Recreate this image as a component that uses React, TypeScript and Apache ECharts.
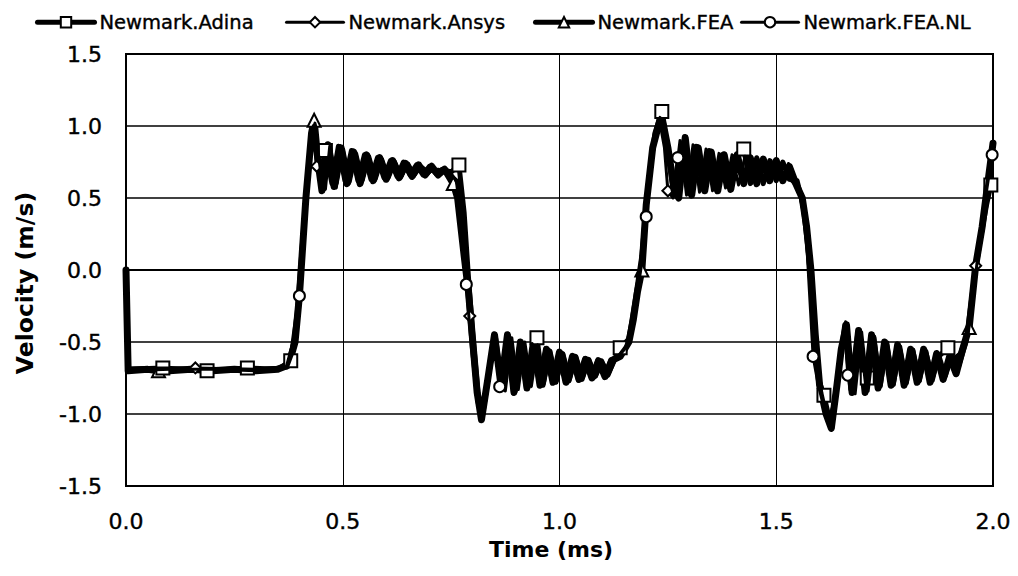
import React, { useEffect, useRef } from "react";
import * as echarts from "echarts";

// Velocity histories [time (ms), velocity (m/s)] for each solver
const adinaData: [number, number][] = [
  [0, 0], [0.005, -0.69], [0.085, -0.68], [0.187, -0.7], [0.28, -0.68], [0.35, -0.69], [0.38, -0.63],
  [0.395, -0.3], [0.41, 0.3], [0.425, 0.85], [0.435, 1.0], [0.447, 0.65], [0.46, 0.83], [0.475, 0.6],
  [0.49, 0.86], [0.505, 0.62], [0.52, 0.83], [0.535, 0.62], [0.55, 0.8], [0.565, 0.63], [0.58, 0.78],
  [0.595, 0.64], [0.61, 0.76], [0.625, 0.65], [0.64, 0.75], [0.655, 0.66], [0.67, 0.73], [0.685, 0.66],
  [0.7, 0.72], [0.715, 0.67], [0.73, 0.7], [0.75, 0.68], [0.768, 0.73], [0.78, 0.4], [0.79, -0.05],
  [0.8, -0.45], [0.812, -0.85], [0.822, -1.02], [0.838, -0.7], [0.852, -0.46], [0.868, -0.82],
  [0.883, -0.48], [0.898, -0.84], [0.913, -0.52], [0.928, -0.8], [0.948, -0.47], [0.962, -0.8],
  [0.977, -0.56], [0.992, -0.78], [1.007, -0.58], [1.022, -0.77], [1.037, -0.6], [1.052, -0.76],
  [1.067, -0.62], [1.082, -0.74], [1.097, -0.63], [1.112, -0.73], [1.127, -0.62], [1.14, -0.54],
  [1.16, -0.48], [1.175, -0.2], [1.19, 0.1], [1.205, 0.6], [1.22, 0.95], [1.236, 1.1], [1.252, 0.8],
  [1.268, 0.52], [1.285, 0.88], [1.3, 0.53], [1.315, 0.86], [1.33, 0.56], [1.345, 0.83], [1.36, 0.56],
  [1.375, 0.8], [1.39, 0.58], [1.405, 0.79], [1.425, 0.84], [1.44, 0.6], [1.455, 0.78], [1.47, 0.6],
  [1.485, 0.76], [1.5, 0.62], [1.515, 0.75], [1.53, 0.63], [1.548, 0.62], [1.562, 0.45], [1.575, 0.1],
  [1.588, -0.45], [1.6, -0.78], [1.61, -0.87], [1.626, -1.08], [1.642, -0.75], [1.658, -0.38],
  [1.672, -0.83], [1.688, -0.44], [1.71, -0.75], [1.725, -0.47], [1.74, -0.8], [1.755, -0.52],
  [1.77, -0.79], [1.785, -0.55], [1.8, -0.78], [1.815, -0.56], [1.83, -0.77], [1.845, -0.57],
  [1.86, -0.75], [1.875, -0.6], [1.896, -0.54], [1.91, -0.62], [1.925, -0.58], [1.94, -0.45],
  [1.955, -0.1], [1.97, 0.2], [1.985, 0.45], [1.995, 0.59],
];
const adinaMarks = [0.085, 0.187, 0.28, 0.38, 0.46, 0.768, 0.948, 1.14, 1.236, 1.425, 1.61, 1.71, 1.896, 1.995];

const ansysData: [number, number][] = [
  [0, 0], [0.005, -0.68], [0.16, -0.68], [0.3, -0.69], [0.37, -0.67], [0.39, -0.45], [0.405, 0.0],
  [0.42, 0.7], [0.432, 1.0], [0.44, 0.72], [0.458, 0.58], [0.472, 0.85], [0.487, 0.6], [0.502, 0.84],
  [0.517, 0.61], [0.532, 0.81], [0.547, 0.62], [0.562, 0.79], [0.577, 0.63], [0.592, 0.77],
  [0.607, 0.64], [0.622, 0.75], [0.637, 0.65], [0.652, 0.74], [0.667, 0.66], [0.682, 0.72],
  [0.7, 0.68], [0.72, 0.7], [0.745, 0.67], [0.765, 0.62], [0.78, 0.15], [0.793, -0.32], [0.805, -0.7],
  [0.818, -1.0], [0.83, -0.85], [0.845, -0.5], [0.86, -0.6], [0.875, -0.84], [0.89, -0.47],
  [0.905, -0.83], [0.92, -0.5], [0.935, -0.81], [0.95, -0.52], [0.965, -0.79], [0.98, -0.56],
  [0.995, -0.77], [1.01, -0.58], [1.025, -0.76], [1.04, -0.6], [1.055, -0.75], [1.07, -0.62],
  [1.085, -0.74], [1.1, -0.64], [1.115, -0.72], [1.13, -0.62], [1.15, -0.55], [1.168, -0.4],
  [1.18, -0.15], [1.195, 0.25], [1.21, 0.75], [1.23, 1.05], [1.242, 0.85], [1.25, 0.55], [1.262, 0.5],
  [1.278, 0.9], [1.293, 0.52], [1.308, 0.87], [1.323, 0.54], [1.338, 0.84], [1.353, 0.55],
  [1.368, 0.81], [1.383, 0.57], [1.398, 0.8], [1.413, 0.59], [1.428, 0.79], [1.443, 0.6],
  [1.458, 0.77], [1.473, 0.61], [1.488, 0.76], [1.503, 0.63], [1.518, 0.74], [1.535, 0.62],
  [1.552, 0.56], [1.565, 0.35], [1.578, 0.0], [1.59, -0.5], [1.605, -0.85], [1.62, -1.05],
  [1.635, -0.9], [1.648, -0.6], [1.66, -0.36], [1.67, -0.6], [1.682, -0.86], [1.697, -0.43],
  [1.712, -0.84], [1.727, -0.46], [1.742, -0.81], [1.757, -0.5], [1.772, -0.8], [1.787, -0.53],
  [1.802, -0.79], [1.817, -0.55], [1.832, -0.77], [1.847, -0.56], [1.862, -0.77], [1.877, -0.59],
  [1.892, -0.74], [1.907, -0.6], [1.922, -0.68], [1.94, -0.5], [1.96, 0.03], [1.975, 0.35],
  [1.99, 0.7], [2.0, 0.85],
];
const ansysMarks = [0.16, 0.44, 0.793, 1.25, 1.96];

const feaData: [number, number][] = [
  [0, 0], [0.005, -0.7], [0.05, -0.69], [0.075, -0.7], [0.1, -0.7], [0.15, -0.69], [0.2, -0.7],
  [0.25, -0.69], [0.3, -0.7], [0.35, -0.69], [0.375, -0.66], [0.39, -0.5], [0.4, -0.18],
  [0.415, 0.5], [0.428, 0.95], [0.434, 1.04], [0.443, 0.75], [0.452, 0.55], [0.466, 0.87],
  [0.48, 0.58], [0.495, 0.85], [0.51, 0.6], [0.525, 0.82], [0.54, 0.6], [0.555, 0.8], [0.57, 0.62],
  [0.585, 0.78], [0.6, 0.63], [0.615, 0.76], [0.63, 0.64], [0.645, 0.74], [0.66, 0.65],
  [0.675, 0.73], [0.69, 0.66], [0.705, 0.72], [0.72, 0.66], [0.735, 0.7], [0.755, 0.6],
  [0.765, 0.5], [0.78, 0.1], [0.79, -0.15], [0.8, -0.5], [0.81, -0.85], [0.82, -1.04],
  [0.835, -0.75], [0.85, -0.45], [0.865, -0.8], [0.88, -0.45], [0.895, -0.85], [0.91, -0.5],
  [0.925, -0.82], [0.94, -0.5], [0.955, -0.8], [0.97, -0.55], [0.985, -0.78], [1.0, -0.57],
  [1.015, -0.78], [1.03, -0.6], [1.045, -0.76], [1.06, -0.62], [1.075, -0.75], [1.09, -0.63],
  [1.105, -0.74], [1.12, -0.63], [1.14, -0.6], [1.16, -0.5], [1.17, -0.35], [1.18, -0.15],
  [1.19, 0.0], [1.2, 0.45], [1.215, 0.85], [1.235, 1.08], [1.25, 0.85], [1.265, 0.55],
  [1.275, 0.5], [1.29, 0.92], [1.305, 0.52], [1.32, 0.85], [1.335, 0.55], [1.35, 0.82],
  [1.365, 0.55], [1.38, 0.8], [1.395, 0.56], [1.41, 0.8], [1.425, 0.6], [1.44, 0.78], [1.455, 0.6],
  [1.47, 0.77], [1.485, 0.62], [1.5, 0.76], [1.515, 0.62], [1.53, 0.72], [1.545, 0.6], [1.56, 0.5],
  [1.57, 0.3], [1.58, 0.0], [1.59, -0.45], [1.6, -0.8], [1.615, -1.0], [1.627, -1.1], [1.64, -0.8],
  [1.65, -0.55], [1.662, -0.38], [1.675, -0.85], [1.69, -0.42], [1.705, -0.85], [1.72, -0.45],
  [1.735, -0.82], [1.75, -0.5], [1.765, -0.8], [1.78, -0.52], [1.795, -0.8], [1.81, -0.55],
  [1.825, -0.78], [1.84, -0.55], [1.855, -0.78], [1.87, -0.58], [1.885, -0.76], [1.9, -0.6],
  [1.915, -0.72], [1.93, -0.55], [1.945, -0.4], [1.96, 0.03], [1.975, 0.3], [1.99, 0.65], [2.0, 0.88],
];
const feaMarks = [0.075, 0.434, 0.755, 1.19, 1.945];

const feaNlData: [number, number][] = [
  [0, 0], [0.005, -0.7], [0.1, -0.69], [0.2, -0.69], [0.3, -0.7], [0.372, -0.68], [0.388, -0.55],
  [0.4, -0.18], [0.413, 0.45], [0.427, 0.92], [0.436, 1.02], [0.448, 0.7], [0.46, 0.56], [0.47, 0.86],
  [0.485, 0.57], [0.5, 0.86], [0.515, 0.6], [0.53, 0.82], [0.545, 0.61], [0.56, 0.8], [0.575, 0.62],
  [0.59, 0.78], [0.605, 0.63], [0.62, 0.76], [0.635, 0.64], [0.65, 0.74], [0.665, 0.65],
  [0.68, 0.72], [0.695, 0.66], [0.71, 0.71], [0.725, 0.67], [0.745, 0.69], [0.762, 0.62],
  [0.775, 0.3], [0.785, -0.1], [0.797, -0.55], [0.81, -0.92], [0.82, -1.03], [0.833, -0.8],
  [0.848, -0.44], [0.862, -0.81], [0.877, -0.46], [0.892, -0.86], [0.907, -0.49], [0.922, -0.83],
  [0.937, -0.51], [0.952, -0.8], [0.967, -0.54], [0.982, -0.78], [0.997, -0.57], [1.012, -0.78],
  [1.027, -0.6], [1.042, -0.77], [1.057, -0.61], [1.072, -0.75], [1.087, -0.62], [1.102, -0.74],
  [1.117, -0.62], [1.135, -0.6], [1.155, -0.52], [1.17, -0.3], [1.185, 0.0], [1.2, 0.37],
  [1.215, 0.8], [1.232, 1.06], [1.247, 0.85], [1.26, 0.55], [1.273, 0.78], [1.288, 0.93],
  [1.302, 0.52], [1.318, 0.86], [1.332, 0.55], [1.348, 0.83], [1.362, 0.56], [1.378, 0.81],
  [1.392, 0.57], [1.408, 0.8], [1.422, 0.59], [1.438, 0.78], [1.452, 0.6], [1.468, 0.77],
  [1.482, 0.61], [1.498, 0.76], [1.512, 0.62], [1.528, 0.74], [1.542, 0.62], [1.558, 0.52],
  [1.57, 0.2], [1.585, -0.6], [1.597, -0.8], [1.612, -0.98], [1.63, -1.1], [1.645, -0.7],
  [1.658, -0.4], [1.665, -0.73], [1.678, -0.84], [1.692, -0.42], [1.708, -0.85], [1.722, -0.45],
  [1.738, -0.82], [1.752, -0.5], [1.768, -0.8], [1.782, -0.52], [1.798, -0.8], [1.812, -0.55],
  [1.828, -0.78], [1.842, -0.55], [1.858, -0.78], [1.872, -0.58], [1.888, -0.76], [1.902, -0.6],
  [1.918, -0.72], [1.935, -0.5], [1.95, -0.3], [1.965, 0.1], [1.98, 0.45], [1.998, 0.8],
];
const feaNlMarks = [0.4, 0.785, 0.862, 1.2, 1.273, 1.585, 1.665, 1.998];

const seriesNames = ["Newmark.Adina", "Newmark.Ansys", "Newmark.FEA", "Newmark.FEA.NL"];
const xTicks = { min: 0, max: 2, step: 0.5 };
const yTicks = { min: -1.5, max: 1.5, step: 0.5 };
const xTitle = "Time (ms)";
const yTitle = "Velocity (m/s)";

const FONT = "'DejaVu Sans', Verdana, sans-serif";

// Per-series drawing style: marker shape/size, line width, legend slot
const styles = [
  { symbol: "rect", size: 13, width: 5, legendLeft: 35, legendWidth: 5, z: 3 },
  { symbol: "diamond", size: 11, width: 3, legendLeft: 285, legendWidth: 3, z: 4 },
  { symbol: "triangle", size: 13, width: 7, legendLeft: 533, legendWidth: 5, z: 2 },
  { symbol: "circle", size: 11, width: 3, legendLeft: 740, legendWidth: 3, z: 5 },
];

// Only the listed sample times carry a marker; the rest are plain line vertices
function withMarkers(data: [number, number][], marks: number[]) {
  return data.map(([t, v]) =>
    marks.some((m) => Math.abs(m - t) < 1e-9) ? { value: [t, v] } : { value: [t, v], symbol: "none" }
  );
}

const allData = [adinaData, ansysData, feaData, feaNlData];
const allMarks = [adinaMarks, ansysMarks, feaMarks, feaNlMarks];

const tickLabel = {
  fontFamily: FONT,
  fontSize: 22,
  color: "#000",
  textBorderColor: "#000",
  textBorderWidth: 0.4,
  formatter: (v: number) => v.toFixed(1),
};

export default function App() {
  const ref = useRef<HTMLDivElement>(null);

  useEffect(() => {
    if (!ref.current) return;
    const chart = echarts.init(ref.current, undefined, { renderer: "svg" });
    chart.setOption({
      animation: false,
      backgroundColor: "#fff",
      legend: seriesNames.map((name, i) => ({
        top: 12,
        left: styles[i].legendLeft,
        padding: 0,
        itemWidth: 57,
        itemHeight: 13,
        textStyle: {
          fontFamily: FONT,
          fontSize: 19.5,
          color: "#000",
          textBorderColor: "#000",
          textBorderWidth: 0.4,
        },
        data: [{ name, lineStyle: { width: styles[i].legendWidth } }],
      })),
      grid: {
        left: 126,
        right: 25,
        top: 54,
        bottom: 90,
        show: true,
        borderColor: "#000",
        borderWidth: 2,
      },
      xAxis: {
        type: "value",
        min: xTicks.min,
        max: xTicks.max,
        interval: xTicks.step,
        axisLine: { lineStyle: { color: "#000", width: 2 } },
        axisTick: { show: false },
        axisLabel: { ...tickLabel, margin: 24 },
        splitLine: { show: true, lineStyle: { color: "#000", width: 1 } },
      },
      yAxis: {
        type: "value",
        min: yTicks.min,
        max: yTicks.max,
        interval: yTicks.step,
        axisLine: { lineStyle: { color: "#000", width: 2 } },
        axisTick: { show: false },
        axisLabel: { ...tickLabel, margin: 24 },
        splitLine: { show: true, lineStyle: { color: "#000", width: 1.6 } },
      },
      graphic: [
        {
          type: "text",
          x: 551,
          y: 549,
          style: {
            text: xTitle,
            font: `bold 22px ${FONT}`,
            fill: "#000",
            align: "center",
            verticalAlign: "middle",
          },
        },
        {
          type: "text",
          x: 25,
          y: 283,
          rotation: Math.PI / 2,
          style: {
            text: yTitle,
            font: `bold 23.5px ${FONT}`,
            fill: "#000",
            align: "center",
            verticalAlign: "middle",
          },
        },
      ],
      series: seriesNames.map((name, i) => ({
        name,
        type: "line",
        data: withMarkers(allData[i], allMarks[i]),
        symbol: styles[i].symbol,
        symbolSize: styles[i].size,
        showSymbol: true,
        showAllSymbol: true,
        z: styles[i].z,
        lineStyle: { color: "#000", width: styles[i].width, join: "round", cap: "round" },
        itemStyle: { color: "#fff", borderColor: "#000", borderWidth: 2 },
      })),
    });
    return () => chart.dispose();
  }, []);

  return (
    <div
      ref={ref}
      style={{ position: "fixed", left: 0, top: 0, width: 1018, height: 576, background: "#fff" }}
    />
  );
}
